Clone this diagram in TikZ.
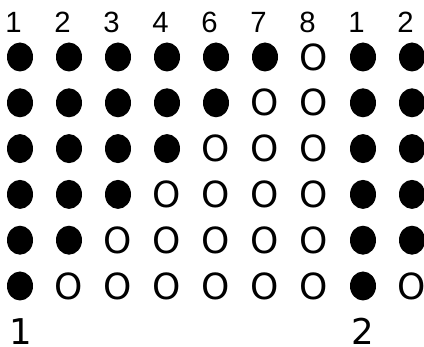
\documentclass[tikz,border=0pt]{standalone}
\usepackage{fontspec}
\usetikzlibrary{shapes.geometric}
\newfontfamily\arialfont{Liberation Sans}
\newfontfamily\dvfont{DejaVu Sans}
\begin{document}
\begin{tikzpicture}[x=1pt,y=-1pt,
  fulldot/.style={ellipse,fill=black,draw=none,minimum width=26pt,minimum height=29pt,inner sep=0pt},
  hollow/.style={inner sep=0pt,font=\dvfont\fontsize{36}{36}\selectfont},
  toplab/.style={inner sep=0pt,anchor=base,font=\arialfont\fontsize{29.3}{30}\selectfont},
  botlab/.style={inner sep=0pt,anchor=base,font=\dvfont\fontsize{35.5}{36}\selectfont}]
\useasboundingbox (0,0) rectangle (424,347);
\fill[white] (0,0) rectangle (424,347);
\foreach \lab [count=\i] in {1,2,3,4,6,7,8,1,2}
  \node[toplab] (t\i) at ({20+49*(\i-1)-6.5},33) {\lab};
\foreach \r in {1,...,6}{
  \foreach \c in {1,...,9}{
    \pgfmathtruncatemacro\filled{((\c<=7-\r) || (\c==8) || (\c==9 && \r<6)) ? 1 : 0}
    \pgfmathsetmacro\xx{20+49*(\c-1)}
    \pgfmathsetmacro\yy{57+45.8*(\r-1)}
    \ifnum\filled=1
      \node[fulldot] (d\r\c) at (\xx,\yy) {};
    \else
      \node[hollow] (d\r\c) at (\xx,\yy) {O};
    \fi
  }
}
\node[botlab] (b1) at (21,345) {1};
\node[botlab] (b2) at (362.5,345) {2};
\end{tikzpicture}
\end{document}
